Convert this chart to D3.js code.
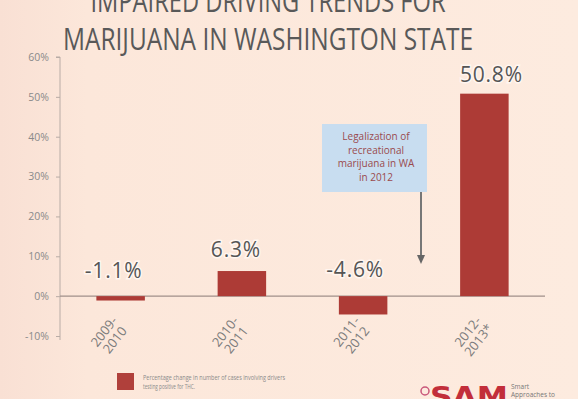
<!DOCTYPE html>
<html>
<head>
<meta charset="utf-8">
<script src="https://cdn.jsdelivr.net/npm/d3@7"></script>
<style>
  body { margin: 0; background: #fce8da; }
  svg { display: block; }
</style>
</head>
<body>
<div id="chart"></div>
<script>
// data
const periods = [["2009-", "2010"], ["2010-", "2011"], ["2011-", "2012"], ["2012-", "2013*"]];
const changes = [-1.1, 6.3, -4.6, 50.8];
const valueLabels = ["-1.1%", "6.3%", "-4.6%", "50.8%"];
const yTicks = [-10, 0, 10, 20, 30, 40, 50, 60];
const titleLines = ["IMPAIRED DRIVING TRENDS FOR", "MARIJUANA IN WASHINGTON STATE"];
const noteLines = ["Legalization of", "recreational", "marijuana in WA", "in 2012"];
const legendLines = ["Percentage change in number of cases involving drivers", "testing positive for THC."];

const W = 578, H = 399;
const svg = d3.select("#chart").append("svg").attr("width", W).attr("height", H);

// background
const grad = svg.append("defs").append("linearGradient").attr("id", "bg");
grad.append("stop").attr("offset", "0%").attr("stop-color", "#f9e0d4");
grad.append("stop").attr("offset", "15%").attr("stop-color", "#fce7da");
grad.append("stop").attr("offset", "100%").attr("stop-color", "#fdebdf");
svg.append("rect").attr("width", W).attr("height", H).attr("fill", "url(#bg)");

const font = "'Open Sans', 'DejaVu Sans', sans-serif";

// title (squeezed to the narrow face of the original)
const titleWidth = [355, 410];
svg.selectAll(".title").data(titleLines).join("text")
    .attr("x", 268)
    .attr("y", (d, i) => 12 + i * 38)
    .attr("text-anchor", "middle")
    .attr("font-family", font)
    .attr("font-size", 31)
    .attr("fill", "#595959")
    .attr("textLength", (d, i) => titleWidth[i])
    .attr("lengthAdjust", "spacingAndGlyphs")
    .text(d => d);

const x = d3.scaleBand().domain(d3.range(periods.length)).range([60, 545]).paddingInner(0.6).paddingOuter(0.3);
const y = d3.scaleLinear().domain([-10, 60]).range([336, 57]);

// y axis
const yAxis = svg.append("g").attr("transform", "translate(60,0)")
    .call(d3.axisLeft(y).tickValues(yTicks).tickSize(4).tickFormat(d => d + "%"));
yAxis.select(".domain").attr("stroke", "#b9aca6").attr("d", "M-4,57H0V340");
yAxis.selectAll(".tick line").attr("stroke", "#b9aca6");
yAxis.selectAll(".tick text").attr("font-family", font).attr("font-size", 10.5)
    .attr("fill", "#8a8a8a").attr("x", -11);

// zero line
svg.append("line").attr("x1", 60).attr("x2", 545)
    .attr("y1", y(0)).attr("y2", y(0))
    .attr("stroke", "#a08f8a").attr("stroke-width", 1.2);

// bars
svg.selectAll(".bar").data(changes).join("rect")
    .attr("x", (d, i) => x(i))
    .attr("width", x.bandwidth())
    .attr("y", d => y(Math.max(0, d)))
    .attr("height", d => Math.abs(y(d) - y(0)))
    .attr("fill", "#ad3b36");

// value labels
const labelY = [278, 257, 277, 82];
const labelDx = [-7, -6, -8, 7];
svg.selectAll(".val").data(valueLabels).join("text")
    .attr("x", (d, i) => x(i) + x.bandwidth() / 2 + labelDx[i])
    .attr("y", (d, i) => labelY[i])
    .attr("text-anchor", "middle")
    .attr("font-family", font)
    .attr("font-size", 21)
    .attr("letter-spacing", 0.8)
    .attr("fill", "#555")
    .attr("stroke", "#fff6f0").attr("stroke-width", 3).attr("paint-order", "stroke")
    .text(d => d);

// category labels, rotated
const cats = svg.selectAll(".cat").data(periods).join("text")
    .attr("transform", (d, i) => `translate(${x(i) + x.bandwidth() / 2 - 11},336) rotate(-52)`)
    .attr("text-anchor", "middle")
    .attr("font-family", font)
    .attr("font-size", 13)
    .attr("fill", "#7c7c7c");
cats.selectAll("tspan").data(d => d).join("tspan")
    .attr("x", 0)
    .attr("dy", (d, i) => i === 0 ? "-0.2em" : "1.05em")
    .text(d => d);

// annotation box and arrow
svg.append("rect").attr("x", 322).attr("y", 124).attr("width", 105).attr("height", 68)
    .attr("fill", "#c8ddf0");
svg.selectAll(".note").data(noteLines).join("text")
    .attr("x", 376).attr("y", (d, i) => 140 + i * 13.5)
    .attr("text-anchor", "middle")
    .attr("font-family", font).attr("font-size", 10)
    .attr("fill", "#9a4a4e")
    .text(d => d);
svg.append("line").attr("x1", 421).attr("x2", 421).attr("y1", 192).attr("y2", 258)
    .attr("stroke", "#777").attr("stroke-width", 2);
svg.append("path").attr("d", "M417,255L421,264L425,255Z").attr("fill", "#666");

// legend
const legendWidth = [142, 52];
svg.append("rect").attr("x", 117).attr("y", 373).attr("width", 17).attr("height", 17).attr("fill", "#b0403b");
svg.selectAll(".leg").data(legendLines).join("text")
    .attr("x", 143).attr("y", (d, i) => 380 + i * 9)
    .attr("font-family", font).attr("font-size", 7)
    .attr("fill", "#8a8a8a")
    .attr("textLength", (d, i) => legendWidth[i])
    .attr("lengthAdjust", "spacingAndGlyphs")
    .text(d => d);

// logo
svg.append("circle").attr("cx", 425).attr("cy", 391).attr("r", 4).attr("fill", "none")
    .attr("stroke", "#c9577a").attr("stroke-width", 1.5);
svg.append("text").attr("x", 430).attr("y", 406)
    .attr("font-family", "'DejaVu Sans', sans-serif").attr("font-weight", "bold")
    .attr("font-size", 27).attr("fill", "#c22e3a")
    .attr("textLength", 78).attr("lengthAdjust", "spacingAndGlyphs")
    .text("SAM");
svg.append("text").attr("x", 511).attr("y", 389)
    .attr("font-family", font).attr("font-size", 6.5).attr("fill", "#777").text("Smart");
svg.append("text").attr("x", 511).attr("y", 397)
    .attr("font-family", font).attr("font-size", 6.5).attr("fill", "#777").text("Approaches to");
</script>
</body>
</html>
